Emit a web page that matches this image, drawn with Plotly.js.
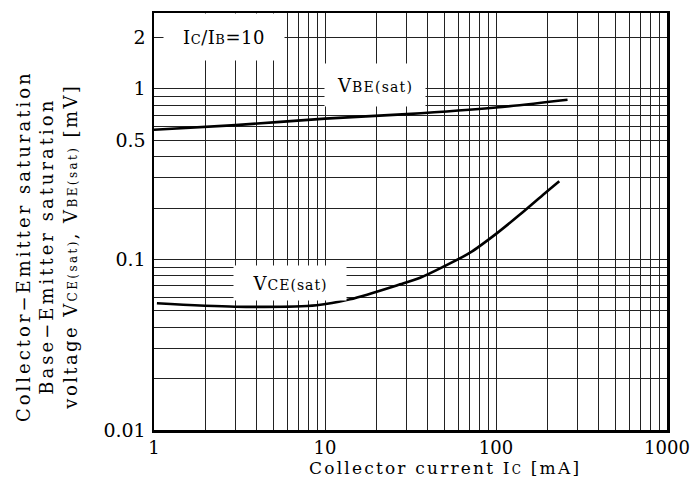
<!DOCTYPE html>
<html>
<head>
<meta charset="utf-8">
<script src="https://cdn.plot.ly/plotly-3.0.1.min.js"></script>
<style>html,body{margin:0;padding:0;background:#fff;}#chart{width:700px;height:501px;}</style>
</head>
<body>
<div id="chart"></div>
<script>
// Collector current Ic [mA] vs saturation voltages
const vbeCurrent = [1, 3, 10, 30, 100, 262];
const vbeVoltage = [0.575, 0.612, 0.668, 0.71, 0.776, 0.862];

const vceCurrent = [1.04, 2.98, 8.94, 14, 27.5, 36, 49.2, 70.5, 101, 138, 194, 234.5];
const vceVoltage = [0.0553, 0.0528, 0.0538, 0.0583, 0.0714, 0.0781, 0.0906, 0.1094, 0.142, 0.183, 0.245, 0.287];

const xGridVals = [1,2,3,4,5,6,7,8,9,10,20,30,40,50,60,70,80,90,100,200,300,400,500,600,700,800,900,1000];
const xGridText = ['1','','','','','','','','','10','','','','','','','','','100','','','','','','','','','1000'];
const yGridVals = [0.01,0.02,0.03,0.04,0.05,0.06,0.07,0.08,0.09,0.1,0.2,0.3,0.4,0.5,0.6,0.7,0.8,0.9,1,2];
const yGridText = ['0.01','','','','','','','','','0.1','','','','0.5','','','','','1','2'];

const FONT = 'DejaVu Serif';
const sm = (t, s) => '<span style="font-size:' + (s || 12) + 'px">' + t + '</span>';
const ls = (t, px) => '<span style="letter-spacing:' + px + 'px">' + t + '</span>';

const traces = [
  {x: vbeCurrent, y: vbeVoltage, type: 'scatter', mode: 'lines', line: {color: '#000', width: 2.6, shape: 'spline', smoothing: 0.8}, name: 'VBE(sat)'},
  {x: vceCurrent, y: vceVoltage, type: 'scatter', mode: 'lines', line: {color: '#000', width: 2.6, shape: 'spline', smoothing: 0.8}, name: 'VCE(sat)'}
];

const yTitleLines = [
  ls('Collector\u2212Emitter saturation', 3),
  ls('Base\u2212Emitter saturation', 3),
  ls('voltage V' + sm('CE(sat)', 12) + ', V' + sm('BE(sat)', 12) + ' [mV]', 2.4)
];

const layout = {
  width: 700, height: 501,
  margin: {l: 154, r: 33, t: 13, b: 71},
  paper_bgcolor: '#fff', plot_bgcolor: '#fff',
  showlegend: false,
  font: {family: FONT, color: '#000', size: 16},
  xaxis: {
    type: 'log', range: [0, 3],
    tickvals: xGridVals, ticktext: xGridText,
    showgrid: true, gridcolor: '#222', gridwidth: 1,
    ticks: '', ticklabelstandoff: 0,
    showline: true, linecolor: '#000', linewidth: 2.5, mirror: true,
    zeroline: false,
    tickfont: {family: FONT, size: 18, color: '#000'}
  },
  yaxis: {
    type: 'log', range: [-2, 0.444],
    tickvals: yGridVals, ticktext: yGridText,
    showgrid: true, gridcolor: '#222', gridwidth: 1,
    ticks: '', ticklabelstandoff: 2,
    showline: true, linecolor: '#000', linewidth: 2.5, mirror: true,
    zeroline: false,
    tickfont: {family: FONT, size: 19, color: '#000'}
  },
  annotations: [
    {xref: 'paper', yref: 'paper', x: (445 - 154) / 513, y: -0.092, xanchor: 'center', yanchor: 'middle',
     text: ls('Collector current I' + sm('C', 12) + ' [mA]', 2.2), showarrow: false,
     font: {family: FONT, size: 17, color: '#000'}},
    {xref: 'paper', yref: 'paper', x: (47 - 154) / 513, y: (430 - 246) / 417, xanchor: 'center', yanchor: 'middle',
     textangle: -90, text: yTitleLines.join('<br>'), showarrow: false,
     font: {family: FONT, size: 18, color: '#000'}},
    {xref: 'paper', yref: 'paper', x: 0.018, y: 1, xanchor: 'left', yanchor: 'top',
     width: 118, height: 44, align: 'center', valign: 'middle',
     text: ls('I' + sm('C', 13) + '/I' + sm('B', 13) + '=10', 0.5), showarrow: false, bgcolor: '#fff',
     font: {family: FONT, size: 18, color: '#000'}},
    {x: Math.log10(19.6), y: Math.log10(1.055), xref: 'x', yref: 'y',
     width: 98, height: 40, text: ls('V' + sm('BE(sat)', 14), 1.2), showarrow: false, bgcolor: '#fff',
     font: {family: FONT, size: 18, color: '#000'}},
    {x: Math.log10(6.2), y: Math.log10(0.0725), xref: 'x', yref: 'y',
     width: 110, height: 32, text: ls('V' + sm('CE(sat)', 14), 1.0), showarrow: false, bgcolor: '#fff',
     font: {family: FONT, size: 18, color: '#000'}}
  ]
};

Plotly.newPlot('chart', traces, layout, {displayModeBar: false, staticPlot: true});
</script>
</body>
</html>
